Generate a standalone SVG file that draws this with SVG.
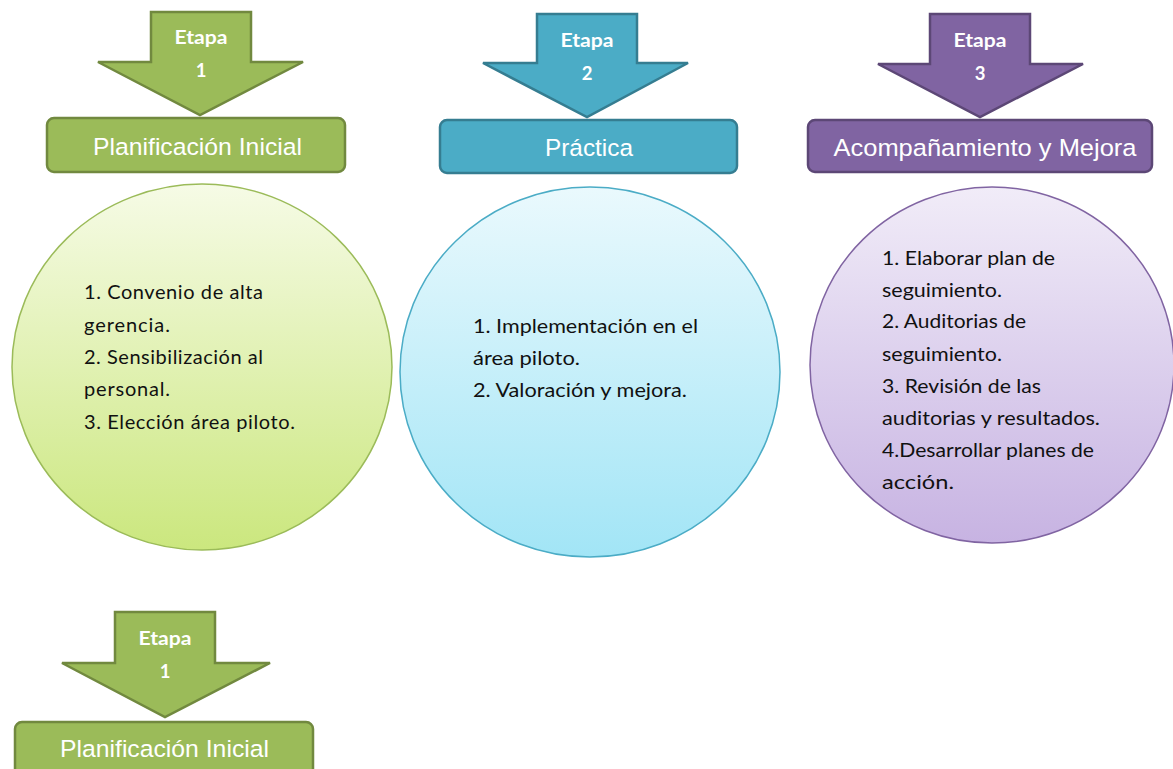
<svg xmlns="http://www.w3.org/2000/svg" width="1173" height="769" viewBox="0 0 1173 769">
<defs>
<linearGradient id="gG" x1="0" y1="0" x2="0" y2="1"><stop offset="0" stop-color="#f6fbe6"/><stop offset="1" stop-color="#cbe77e"/></linearGradient>
<linearGradient id="gB" x1="0" y1="0" x2="0" y2="1"><stop offset="0" stop-color="#eaf9fd"/><stop offset="1" stop-color="#a2e5f6"/></linearGradient>
<linearGradient id="gP" x1="0" y1="0" x2="0" y2="1"><stop offset="0" stop-color="#f1ecf8"/><stop offset="1" stop-color="#c7b3e2"/></linearGradient>
</defs>
<style>
.etapa{font-family:"Lato","Liberation Sans",sans-serif;font-weight:bold;font-size:18.5px;fill:#fff;text-anchor:middle}
.hdr{font-family:"Liberation Sans",Arial,sans-serif;font-size:24.5px;fill:#fff;text-anchor:middle}
.body{font-family:"Lato","Liberation Sans",sans-serif;font-size:20px;fill:#111}
.green{fill:#9bbb59;stroke:#71893f;stroke-width:2.5}
.blue{fill:#4bacc6;stroke:#357d91;stroke-width:2.5}
.purple{fill:#8064a2;stroke:#5c4776;stroke-width:2.5}
</style>
<rect width="1173" height="769" fill="#fff"/>

<g id="stage1">
<polygon class="green" points="151,12 251,12 251,62 303,62 200,115 98,62 151,62"/>
<text class="etapa" x="201" y="44" textLength="53" lengthAdjust="spacingAndGlyphs">Etapa</text>
<text class="etapa" x="201" y="77">1</text>
<rect class="green" x="47" y="118" width="298" height="54" rx="7"/>
<text class="hdr" x="197.5" y="154.5" textLength="209" lengthAdjust="spacingAndGlyphs">Planificación Inicial</text>
<ellipse cx="202" cy="367" rx="190" ry="183" fill="url(#gG)" stroke="#9bbb59" stroke-width="1.5"/>
<text class="body" lengthAdjust="spacingAndGlyphs">
<tspan x="84" y="299" textLength="179">1. Convenio de alta</tspan>
<tspan x="84" y="332" textLength="86">gerencia.</tspan>
<tspan x="84" y="364" textLength="179">2. Sensibilización al</tspan>
<tspan x="84" y="396" textLength="86">personal.</tspan>
<tspan x="84" y="429" textLength="211">3. Elección área piloto.</tspan>
</text>
</g>

<g id="stage2">
<polygon class="blue" points="537,14 637,14 637,63 688,63 587,117 483,63 537,63"/>
<text class="etapa" x="587" y="47" textLength="53" lengthAdjust="spacingAndGlyphs">Etapa</text>
<text class="etapa" x="587" y="80">2</text>
<rect class="blue" x="440" y="120" width="297" height="53" rx="7"/>
<text class="hdr" x="589" y="155.5" textLength="88" lengthAdjust="spacingAndGlyphs">Práctica</text>
<ellipse cx="590" cy="372" rx="190" ry="185" fill="url(#gB)" stroke="#4bacc6" stroke-width="1.5"/>
<text class="body">
<tspan x="473" y="333" textLength="225" lengthAdjust="spacingAndGlyphs">1. Implementación en el</tspan>
<tspan x="473" y="365" textLength="107" lengthAdjust="spacingAndGlyphs">área piloto.</tspan>
<tspan x="473" y="397" textLength="214" lengthAdjust="spacingAndGlyphs">2. Valoración y mejora.</tspan>
</text>
</g>

<g id="stage3">
<polygon class="purple" points="930,14 1030,14 1030,64 1083,64 980,117 878,64 930,64"/>
<text class="etapa" x="980" y="47" textLength="53" lengthAdjust="spacingAndGlyphs">Etapa</text>
<text class="etapa" x="980" y="80">3</text>
<rect class="purple" x="808" y="120" width="344" height="52" rx="7"/>
<text class="hdr" x="985" y="156" textLength="303" lengthAdjust="spacingAndGlyphs">Acompañamiento y Mejora</text>
<ellipse cx="992" cy="365" rx="182" ry="178" fill="url(#gP)" stroke="#8064a2" stroke-width="1.5"/>
<text class="body">
<tspan x="882" y="265" textLength="173" lengthAdjust="spacingAndGlyphs">1. Elaborar plan de</tspan>
<tspan x="882" y="297" textLength="120" lengthAdjust="spacingAndGlyphs">seguimiento.</tspan>
<tspan x="882" y="328" textLength="144" lengthAdjust="spacingAndGlyphs">2. Auditorias de</tspan>
<tspan x="882" y="361" textLength="120" lengthAdjust="spacingAndGlyphs">seguimiento.</tspan>
<tspan x="882" y="393" textLength="159" lengthAdjust="spacingAndGlyphs">3. Revisión de las</tspan>
<tspan x="882" y="425" textLength="218" lengthAdjust="spacingAndGlyphs">auditorias y resultados.</tspan>
<tspan x="882" y="457" textLength="212" lengthAdjust="spacingAndGlyphs">4.Desarrollar planes de</tspan>
<tspan x="882" y="489" textLength="72" lengthAdjust="spacingAndGlyphs">acción.</tspan>
</text>
</g>

<g id="stage1-copy">
<polygon class="green" points="115,612 215,612 215,663 270,663 165,717 62,663 115,663"/>
<text class="etapa" x="165" y="645" textLength="53" lengthAdjust="spacingAndGlyphs">Etapa</text>
<text class="etapa" x="165" y="678">1</text>
<rect class="green" x="15" y="722" width="298" height="60" rx="7"/>
<text class="hdr" x="164.5" y="757" textLength="209" lengthAdjust="spacingAndGlyphs">Planificación Inicial</text>
</g>

<g id="connectors"></g>
</svg>
